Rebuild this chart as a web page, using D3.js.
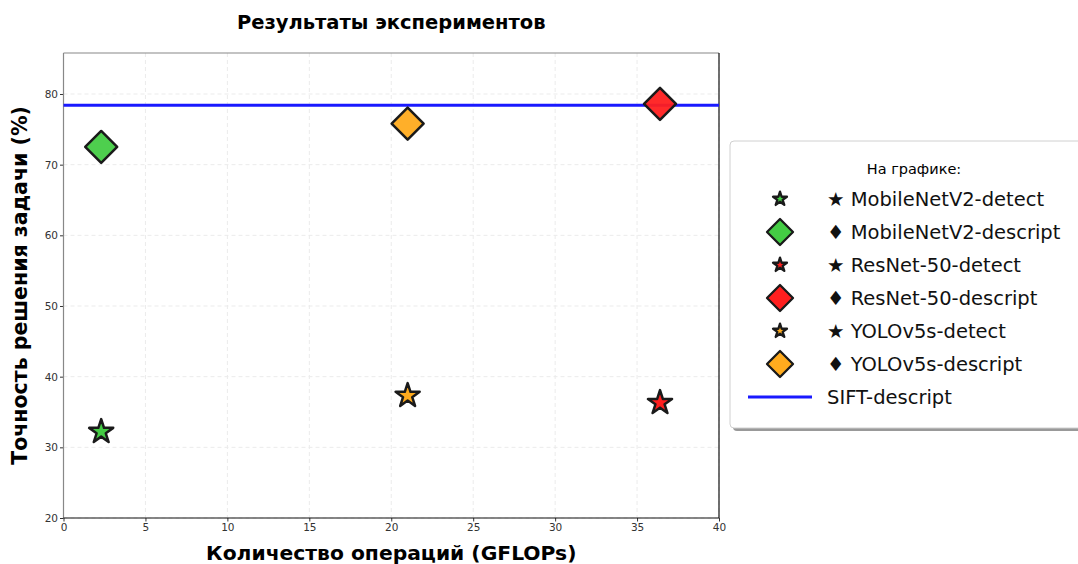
<!DOCTYPE html>
<html>
<head>
<meta charset="utf-8">
<script src="https://cdn.jsdelivr.net/npm/d3@7"></script>
<style>
  body { margin: 0; background: #fff; }
  svg { font-family: "DejaVu Sans", sans-serif; }
</style>
</head>
<body>
<svg id="chart" width="1078" height="564"></svg>
<script>
// Data
const models = ['MobileNetV2', 'ResNet-50', 'YOLOv5s'];
const gflops = [2.3, 36.4, 21.0];
const detectAcc = [32.2, 36.3, 37.3];
const descriptAcc = [72.5, 78.6, 75.8];
const modelColors = ['#44cc44', '#ff1f1f', '#ffab1e'];
const siftAcc = 78.4;
const xTicks = [0, 5, 10, 15, 20, 25, 30, 35, 40];
const yTicks = [20, 30, 40, 50, 60, 70, 80];

const svg = d3.select('#chart');
const margin = { left: 63.5, right: 359, top: 53, bottom: 46 };
const width = 1078, height = 564;
const innerWidth = width - margin.left - margin.right;
const innerHeight = height - margin.top - margin.bottom;

const x = d3.scaleLinear().domain([0, 40]).range([0, innerWidth]);
const y = d3.scaleLinear().domain([20, 85.8]).range([innerHeight, 0]);

const g = svg.append('g').attr('transform', `translate(${margin.left},${margin.top})`);

// Grid
g.append('g').selectAll('line').data(xTicks).join('line')
  .attr('x1', d => x(d)).attr('x2', d => x(d))
  .attr('y1', 0).attr('y2', innerHeight)
  .attr('stroke', '#ebebeb').attr('stroke-dasharray', '4,3');
g.append('g').selectAll('line').data(yTicks).join('line')
  .attr('y1', d => y(d)).attr('y2', d => y(d))
  .attr('x1', 0).attr('x2', innerWidth)
  .attr('stroke', '#ebebeb').attr('stroke-dasharray', '4,3');

// Axes
const xAxis = g.append('g')
  .attr('transform', `translate(0,${innerHeight})`)
  .call(d3.axisBottom(x).tickValues(xTicks).tickSize(3.5).tickPadding(2).tickSizeOuter(0));
const yAxis = g.append('g')
  .call(d3.axisLeft(y).tickValues(yTicks).tickSize(3.5).tickPadding(2).tickSizeOuter(0));
[xAxis, yAxis].forEach(a => {
  a.selectAll('text').attr('font-size', 10.5).attr('fill', '#333').attr('font-family', 'DejaVu Sans');
  a.select('.domain').remove();
  a.selectAll('.tick line').attr('stroke', '#333');
});

// Frame
g.append('line').attr('x1', 0).attr('x2', innerWidth).attr('y1', 0).attr('y2', 0).attr('stroke', '#888').attr('stroke-width', 1.2);
g.append('line').attr('x1', 0).attr('x2', 0).attr('y1', 0).attr('y2', innerHeight).attr('stroke', '#888').attr('stroke-width', 1.2);
g.append('line').attr('x1', 0).attr('x2', innerWidth).attr('y1', innerHeight).attr('y2', innerHeight).attr('stroke', '#111').attr('stroke-width', 1.2);
g.append('line').attr('x1', innerWidth).attr('x2', innerWidth).attr('y1', 0).attr('y2', innerHeight).attr('stroke', '#111').attr('stroke-width', 1.2);

// Marker shapes
const diamond = {
  draw(ctx, size) {
    const r = Math.sqrt(size / 2);
    ctx.moveTo(0, -r); ctx.lineTo(r, 0); ctx.lineTo(0, r); ctx.lineTo(-r, 0); ctx.closePath();
  }
};
const starPath = d3.symbol(d3.symbolStar, 180)();
const diamondPath = d3.symbol(diamond, 2 * 16 * 16)();

// SIFT baseline
g.append('line')
  .attr('x1', 0).attr('x2', innerWidth)
  .attr('y1', y(siftAcc)).attr('y2', y(siftAcc))
  .attr('stroke', '#1a1aff').attr('stroke-width', 3);

// Points
const idx = d3.range(models.length);
g.append('g').selectAll('path.det').data(idx).join('path')
  .attr('class', 'det')
  .attr('d', starPath)
  .attr('transform', i => `translate(${x(gflops[i])},${y(detectAcc[i])})`)
  .attr('fill', i => modelColors[i])
  .attr('stroke', '#1a1a1a').attr('stroke-width', 2.5).attr('stroke-linejoin', 'round');
g.append('g').selectAll('path.desc').data(idx).join('path')
  .attr('class', 'desc')
  .attr('d', diamondPath)
  .attr('transform', i => `translate(${x(gflops[i])},${y(descriptAcc[i])})`)
  .attr('fill', i => modelColors[i]).attr('fill-opacity', 0.95)
  .attr('stroke', '#1a1a1a').attr('stroke-width', 2.5).attr('stroke-linejoin', 'round');

// Titles
svg.append('text')
  .attr('x', margin.left + innerWidth / 2).attr('y', 29)
  .attr('text-anchor', 'middle').attr('font-size', 19.5).attr('font-weight', 'bold')
  .text('Результаты экспериментов');
svg.append('text')
  .attr('x', margin.left + innerWidth / 2).attr('y', 560)
  .attr('text-anchor', 'middle').attr('font-size', 20.3).attr('font-weight', 'bold')
  .text('Количество операций (GFLOPs)');
svg.append('text')
  .attr('transform', `translate(27,${margin.top + innerHeight / 2}) rotate(-90)`)
  .attr('text-anchor', 'middle').attr('font-size', 20.5).attr('font-weight', 'bold')
  .text('Точность решения задачи (%)');

// Legend
const legendItems = [];
idx.forEach(i => {
  legendItems.push({ label: `★ ${models[i]}-detect`, type: 'star', color: modelColors[i] });
  legendItems.push({ label: `♦ ${models[i]}-descript`, type: 'diamond', color: modelColors[i] });
});
legendItems.push({ label: 'SIFT-descript', type: 'line', color: '#1a1aff' });

const lg = svg.append('g').attr('transform', 'translate(730,141)');
lg.append('rect').attr('x', 3).attr('y', 3).attr('width', 365).attr('height', 287)
  .attr('rx', 4).attr('fill', '#999');
lg.append('rect').attr('x', 0).attr('y', 0).attr('width', 365).attr('height', 287)
  .attr('rx', 4).attr('fill', '#fff').attr('stroke', '#d0d0d0');
lg.append('text').attr('x', 184).attr('y', 33).attr('text-anchor', 'middle')
  .attr('font-size', 14.5).text('На графике:');

const rows = lg.selectAll('g.item').data(legendItems).join('g')
  .attr('class', 'item')
  .attr('transform', (d, i) => `translate(0,${58 + i * 33})`);
rows.each(function(d) {
  const r = d3.select(this);
  if (d.type === 'line') {
    r.append('line').attr('x1', 18).attr('x2', 82).attr('stroke', d.color).attr('stroke-width', 3);
  } else {
    r.append('path')
      .attr('d', d.type === 'star' ? d3.symbol(d3.symbolStar, 60)() : d3.symbol(diamond, 2 * 13 * 13)())
      .attr('transform', 'translate(50,0)')
      .attr('fill', d.color)
      .attr('stroke', '#1a1a1a').attr('stroke-width', 2.3).attr('stroke-linejoin', 'round');
  }
  r.append('text').attr('x', 97).attr('y', 7).attr('font-size', 19.5).attr('fill', '#111').text(d.label);
});
</script>
</body>
</html>
